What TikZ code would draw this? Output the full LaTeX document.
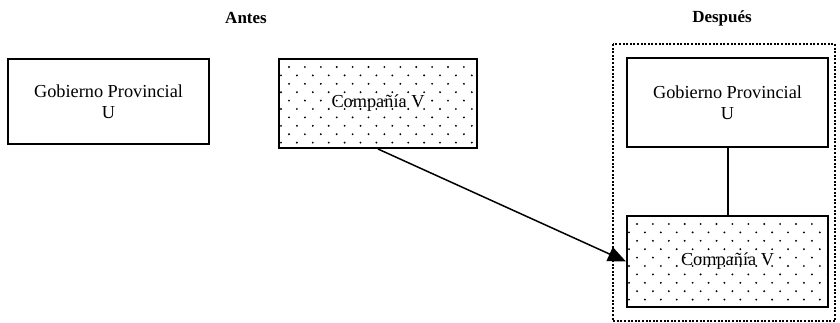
\documentclass[tikz,border=0pt]{standalone}
\usepackage{fontspec}
\setmainfont{Liberation Serif}
\usetikzlibrary{arrows.meta,calc}
\begin{document}
\begin{tikzpicture}[x=1pt,y=-1pt,
  txt/.style={font=\fontsize{18.3}{21}\selectfont},
  ttl/.style={font=\fontsize{17}{20}\selectfont\bfseries},
  plainbox/.style={draw,line width=2pt,align=center,inner sep=0pt,txt},
  dotbox/.style={plainbox,path picture={
      \coordinate (nw) at (path picture bounding box.north west);
      \foreach \i in {0,...,11}{
        \pgfmathsetmacro\offx{mod(\i,2)==0 ? 10 : 2}
        \pgfmathsetmacro\offy{\i*8.4+8}
        \foreach \j in {0,...,13}{
          \fill ([shift={(\j*15.9+\offx,\offy)}]nw) circle[radius=1.05pt];
        }}}},
  link/.style={line width=2pt},
  arr/.style={line width=1.5pt,-{Triangle[length=18pt,width=15pt]}}]
\useasboundingbox (0,0) rectangle (840,322);
\node[ttl] (antes) at (246,18) {Antes};
\node[ttl] (despues) at (722,18) {Después};
\node[plainbox,minimum width=201pt,minimum height=85pt] (gov1) at (108.5,101.5) {Gobierno Provincial\\U};
\node[dotbox,minimum width=198pt,minimum height=89pt] (comp1) at (378,103.5) {Compañía V};
\draw[line width=2pt,dash pattern=on 2pt off 1.6pt] (613,44) rectangle (835,321);
\node[plainbox,minimum width=201pt,minimum height=89pt] (gov2) at (727.5,102.5) {Gobierno Provincial\\U};
\node[dotbox,minimum width=201pt,minimum height=91pt] (comp2) at (727.5,261.5) {Compañía V};
\draw[link] (gov2.south) -- (comp2.north);
\draw[arr] (comp1.south) -- (comp2.west);
\end{tikzpicture}
\end{document}
